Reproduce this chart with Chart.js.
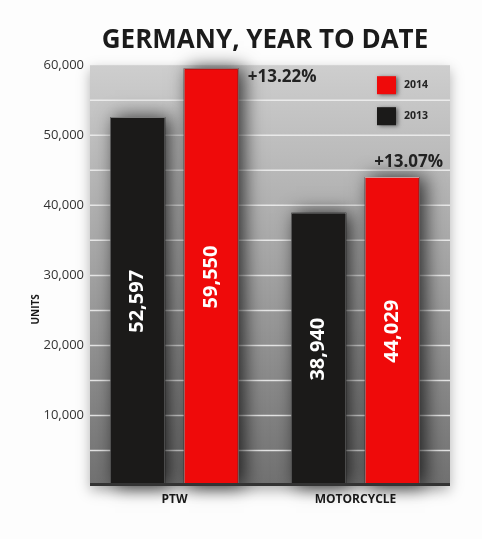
<!DOCTYPE html>
<html>
<head>
<meta charset="utf-8">
<script src="https://cdn.jsdelivr.net/npm/chart.js@4.4.1/dist/chart.umd.min.js"></script>
<style>
html,body{margin:0;padding:0;background:#fdfdfd;}
#wrap{width:482px;height:539px;position:relative;}
</style>
</head>
<body>
<div id="wrap"><canvas id="c" width="482" height="539"></canvas></div>
<script>
// ---- data ----
const chartTitle = 'GERMANY, YEAR TO DATE';
const yAxisTitle = 'UNITS';
const categories = ['PTW', 'MOTORCYCLE'];
const seriesNames = ['2013', '2014'];
const values2013 = [52597, 38940];
const values2014 = [59550, 44029];
const changeLabels = ['+13.22%', '+13.07%'];
const yMax = 60000;
const yStep = 5000;
const yLabelStep = 10000;

const FONT = "'Open Sans', 'DejaVu Sans', sans-serif";
Chart.defaults.font.family = FONT;

const fmt = v => Number(v).toLocaleString('en-US');

const decorPlugin = {
  id: 'decor',
  beforeDraw(chart) {
    const {ctx, chartArea: a, scales: {y}} = chart;
    const L = a.left + 6, R = a.right + 4, T = a.top, B = a.bottom;
    ctx.save();
    ctx.shadowColor = 'rgba(0,0,0,0.30)';
    ctx.shadowBlur = 12;
    ctx.shadowOffsetY = 5;
    const g = ctx.createLinearGradient(0, T, 0, B);
    g.addColorStop(0, '#cecece');
    g.addColorStop(0.5, '#a2a2a2');
    g.addColorStop(1, '#717171');
    ctx.fillStyle = g;
    ctx.fillRect(L, T, R - L, B - T);
    ctx.restore();
    // gridlines from the y scale
    ctx.save();
    ctx.strokeStyle = 'rgba(238,238,238,0.9)';
    ctx.lineWidth = 1.5;
    y.ticks.forEach(t => {
      if (t.value <= 0 || t.value >= y.max) return;
      const py = y.getPixelForValue(t.value);
      ctx.beginPath();
      ctx.moveTo(L, py);
      ctx.lineTo(R, py);
      ctx.stroke();
    });
    ctx.restore();
  },
  beforeDatasetsDraw(chart) {
    const ctx = chart.ctx;
    ctx.save();
    ctx.shadowColor = 'rgba(0,0,0,0.75)';
    ctx.shadowBlur = 18;
    ctx.shadowOffsetX = 5;
    ctx.fillStyle = '#000';
    chart.data.datasets.forEach((ds, i) => {
      chart.getDatasetMeta(i).data.forEach(bar => {
        const p = bar.getProps(['x', 'y', 'base', 'width'], true);
        ctx.fillRect(p.x - p.width / 2, p.y, p.width, p.base - p.y);
      });
    });
    ctx.restore();
  },
  afterDatasetsDraw(chart) {
    const {ctx, chartArea: a} = chart;
    const L = a.left + 6, R = a.right + 4;
    // axis line
    ctx.save();
    ctx.strokeStyle = '#333';
    ctx.lineWidth = 3;
    ctx.beginPath();
    ctx.moveTo(L, a.bottom - 1);
    ctx.lineTo(R, a.bottom - 1);
    ctx.stroke();
    ctx.restore();

    // value labels inside bars
    ctx.save();
    ctx.fillStyle = '#ffffff';
    ctx.font = 'bold 20px ' + FONT;
    ctx.textAlign = 'center';
    ctx.textBaseline = 'middle';
    chart.data.datasets.forEach((ds, i) => {
      chart.getDatasetMeta(i).data.forEach((bar, j) => {
        const p = bar.getProps(['x', 'y', 'base'], true);
        ctx.save();
        ctx.translate(p.x, (p.y + p.base) / 2);
        ctx.rotate(-Math.PI / 2);
        ctx.fillText(fmt(ds.data[j]), 0, 0);
        ctx.restore();
      });
    });
    ctx.restore();

    // change labels for the 2014 bars
    ctx.save();
    ctx.fillStyle = '#222';
    ctx.font = 'bold 17px ' + FONT;
    ctx.textAlign = 'left';
    chart.getDatasetMeta(1).data.forEach((bar, j) => {
      const p = bar.getProps(['x', 'y', 'width'], true);
      if (p.y - a.top < 30) {
        ctx.textBaseline = 'middle';
        ctx.fillText(changeLabels[j], p.x + p.width / 2 + 9, p.y + 9);
      } else {
        ctx.textBaseline = 'alphabetic';
        ctx.fillText(changeLabels[j], p.x - 18, p.y - 10);
      }
    });
    ctx.restore();

    // legend (2014 on top)
    ctx.save();
    const order = [1, 0];
    order.forEach((di, k) => {
      const ds = chart.data.datasets[di];
      const sx = R - 73, sy = a.top + 11 + k * 31;
      ctx.save();
      ctx.shadowColor = 'rgba(0,0,0,0.5)';
      ctx.shadowBlur = 4;
      ctx.shadowOffsetX = 2;
      ctx.shadowOffsetY = 1;
      ctx.fillStyle = ds.backgroundColor;
      ctx.fillRect(sx, sy, 19, 18);
      ctx.restore();
      ctx.fillStyle = '#222';
      ctx.font = 'bold 10.5px ' + FONT;
      ctx.textAlign = 'left';
      ctx.textBaseline = 'middle';
      ctx.fillText(ds.label, sx + 27, sy + 9);
    });
    ctx.restore();

    // y axis title
    ctx.save();
    ctx.fillStyle = '#1a1a1a';
    ctx.font = 'bold 10px ' + FONT;
    ctx.textAlign = 'center';
    ctx.textBaseline = 'middle';
    ctx.translate(a.left - 48, (a.top + a.bottom) / 2 + 34);
    ctx.rotate(-Math.PI / 2);
    ctx.fillText(yAxisTitle, 0, 0);
    ctx.restore();
  }
};

new Chart(document.getElementById('c'), {
  type: 'bar',
  data: {
    labels: categories,
    datasets: [
      {label: seriesNames[0], data: values2013, backgroundColor: '#1b1a19', borderColor: 'rgba(200,200,200,0.6)', borderWidth: 1},
      {label: seriesNames[1], data: values2014, backgroundColor: '#ef0a0a', borderColor: 'rgba(255,190,190,0.8)', borderWidth: 1}
    ]
  },
  options: {
    responsive: false,
    animation: false,
    layout: {padding: {left: 40, right: 36, top: 0, bottom: 25}},
    categoryPercentage: 0.812,
    barPercentage: 0.748,
    plugins: {
      legend: {display: false},
      tooltip: {enabled: false},
      title: {
        display: true,
        text: chartTitle,
        fullSize: false,
        color: '#1b1b1b',
        font: {family: FONT, size: 26, weight: 'bold'},
        padding: {top: 25, bottom: 9}
      }
    },
    scales: {
      x: {
        grid: {display: false, drawTicks: false},
        border: {display: false},
        ticks: {color: '#1a1a1a', font: {size: 12, weight: 'bold'}, padding: 7}
      },
      y: {
        min: 0,
        max: yMax,
        afterFit: s => { s.width = 44; },
        grid: {display: false, drawTicks: false},
        border: {display: false},
        ticks: {
          stepSize: yStep,
          padding: 0,
          color: '#333',
          font: {size: 13},
          callback: v => (v > 0 && v % yLabelStep === 0) ? fmt(v) : ''
        }
      }
    }
  },
  plugins: [decorPlugin]
});
</script>
</body>
</html>
